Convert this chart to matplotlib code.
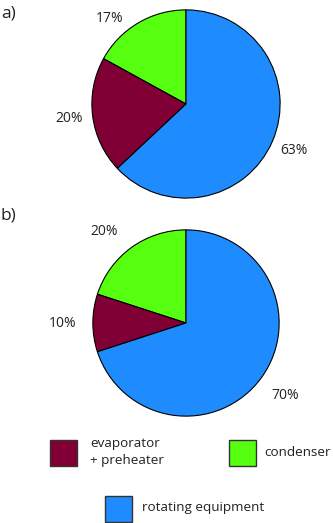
import numpy as np
import matplotlib
matplotlib.use('Agg')
import matplotlib.pyplot as plt
from matplotlib.patches import Rectangle

plt.rcParams['font.family'] = ['Open Sans', 'DejaVu Sans']

# Data
categories = ['condenser', 'evaporator\n+ preheater', 'rotating equipment']
shares_a = [17, 20, 63]
shares_b = [20, 10, 70]
colors = ['#55ff0f', '#800036', '#1e8cff']
panel_labels = ['a)', 'b)']

W, H = 333, 523
fig = plt.figure(figsize=(W / 100, H / 100), dpi=100)


def add_pie(cx, cy, r, shares, dist):
    ax = fig.add_axes([(cx - r) / W, 1 - (cy + r) / H, 2 * r / W, 2 * r / H])
    wedges, texts = ax.pie(shares, colors=colors, startangle=90, counterclock=True,
                           labels=['%d%%' % s for s in shares], labeldistance=dist,
                           wedgeprops=dict(edgecolor='black', linewidth=0.8),
                           textprops=dict(fontsize=10, color='#222222'))
    ax.set_xlim(-1.02, 1.02)
    ax.set_ylim(-1.02, 1.02)
    for t in texts:
        t.set_ha('center')
        t.set_va('center')
        t.set_clip_on(False)
    return ax, texts


ax_a, texts_a = add_pie(186, 104, 96, shares_a, 1.25)
# nudge the small green label as in the original
ang = np.deg2rad(132)
texts_a[0].set_position((1.22 * np.cos(ang), 1.22 * np.sin(ang)))

ax_b, texts_b = add_pie(186, 323, 95, shares_b, 1.32)
ang = np.deg2rad(132)
texts_b[0].set_position((1.32 * np.cos(ang), 1.32 * np.sin(ang)))

fig.text(1 / W, 1 - 13 / H, panel_labels[0], fontsize=12.5, va='center', ha='left', color='#222222')
fig.text(1 / W, 1 - 216 / H, panel_labels[1], fontsize=12.5, va='center', ha='left', color='#222222')

# legend drawn as figure patches
legend_boxes = [(50, 440), (229, 440), (105, 496)]
legend_text = [(90, 452), (264, 453), (142, 508)]
order = [1, 0, 2]
for (bx, by), (tx, ty), i in zip(legend_boxes, legend_text, order):
    fig.add_artist(Rectangle((bx / W, 1 - (by + 26) / H), 27 / W, 26 / H,
                             transform=fig.transFigure, facecolor=colors[i],
                             edgecolor='#333333', linewidth=1.0))
    fig.text(tx / W, 1 - ty / H, categories[i], fontsize=9.7, va='center', ha='left',
             color='#222222', linespacing=1.35)

fig.savefig('out.png', dpi=100)
